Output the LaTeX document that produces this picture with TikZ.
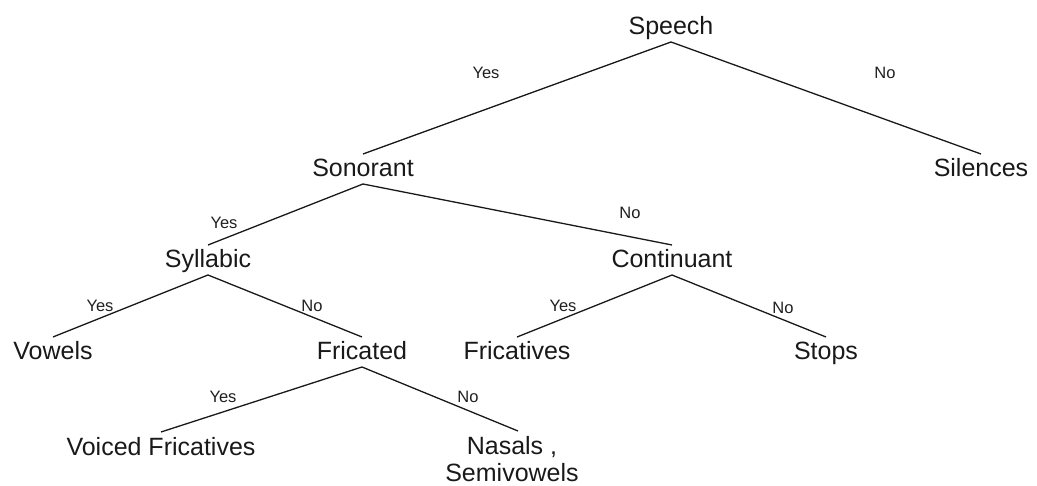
\documentclass[tikz,border=0pt]{standalone}
\usepackage{fontspec}
\setmainfont{Liberation Sans}
\begin{document}
\begin{tikzpicture}[x=1pt,y=-1pt,
  cat/.style={inner sep=0pt, outer xsep=0pt, outer ysep=5pt, text height=18pt, text depth=2pt,
    anchor=base, font=\fontsize{25}{28}\selectfont, text=black!90},
  multi/.style={inner sep=0pt, outer xsep=0pt, outer ysep=5pt, anchor=north, align=center,
    font=\fontsize{25}{27}\selectfont, text=black!90},
  ans/.style={inner sep=0pt, anchor=center, font=\fontsize{16.5}{18}\selectfont, text=black!88},
  edge/.style={line width=1.3pt, draw=black!90}]
\useasboundingbox (0,0) rectangle (1037,486);
\node[cat] (speech) at (671,35) {Speech};
\node[cat] (sonorant) at (363,177) {Sonorant};
\node[cat] (silences) at (981,177) {Silences};
\node[cat] (syllabic) at (208,268) {Syllabic};
\node[cat] (continuant) at (672,268) {Continuant};
\node[cat] (vowels) at (53,360) {Vowels};
\node[cat] (fricated) at (362,360) {Fricated};
\node[cat] (fricatives) at (517,360) {Fricatives};
\node[cat] (stops) at (826,360) {Stops};
\node[cat] (voiced) at (161,455) {Voiced Fricatives};
\node[multi] (nasals) at (512,431) {Nasals ,\\Semivowels};
\coordinate (nasalstop) at (518,431);

\draw[edge] (sonorant.north) -- (speech.south) -- (silences.north);
\draw[edge] (syllabic.north) -- (sonorant.south) -- (continuant.north);
\draw[edge] (vowels.north) -- (syllabic.south) -- (fricated.north);
\draw[edge] (fricatives.north) -- (continuant.south) -- (stops.north);
\draw[edge] (voiced.north) -- (fricated.south) -- (nasalstop);

\node[ans] (y1) at (486,73) {Yes};
\node[ans] (n1) at (885,73) {No};
\node[ans] (y2) at (224,223) {Yes};
\node[ans] (n2) at (630,213) {No};
\node[ans] (y3) at (100,306) {Yes};
\node[ans] (n3) at (312,306) {No};
\node[ans] (y4) at (563,306) {Yes};
\node[ans] (n4) at (783,308) {No};
\node[ans] (y5) at (223,397) {Yes};
\node[ans] (n5) at (468,397) {No};
\end{tikzpicture}
\end{document}
